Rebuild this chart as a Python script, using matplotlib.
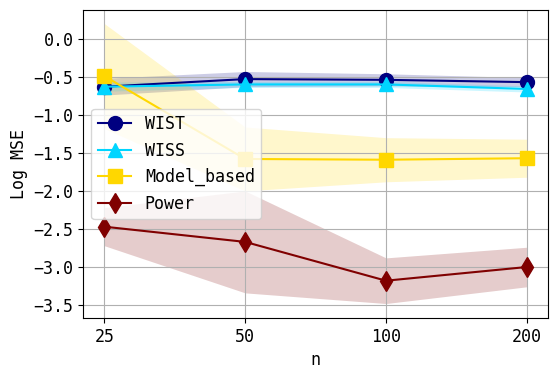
import matplotlib
matplotlib.use('Agg')
import matplotlib.pyplot as plt
import numpy as np

# data
n_labels = ['25', '50', '100', '200']

wist = [-0.63, -0.53, -0.54, -0.57]
wist_sd = [0.11, 0.10, 0.08, 0.06]

wiss = [-0.63, -0.60, -0.60, -0.66]
wiss_sd = [0.06, 0.04, 0.04, 0.04]

model_based = [-0.49, -1.58, -1.59, -1.57]
model_sd = [0.69, 0.42, 0.29, 0.25]

power = [-2.47, -2.67, -3.18, -3.00]
power_sd = [0.25, 0.67, 0.30, 0.26]

plt.rcParams['font.family'] = ['DejaVu Sans Mono']
plt.rcParams['font.size'] = 12

fig, ax = plt.subplots(figsize=(5.58, 3.79), dpi=100)
fig.subplots_adjust(left=0.149, right=0.982, top=0.974, bottom=0.161)

x = np.arange(len(n_labels))
series = [
    ('WIST', wist, wist_sd, 'navy', 'o'),
    ('WISS', wiss, wiss_sd, '#00d5ff', '^'),
    ('Model_based', model_based, model_sd, 'gold', 's'),
    ('Power', power, power_sd, 'maroon', 'd'),
]

for name, mean, sd, color, marker in series:
    mean = np.array(mean)
    sd = np.array(sd)
    ax.plot(x, mean, color=color, marker=marker, markersize=10, label=name)
    ax.fill_between(x, mean - sd, mean + sd, color=color, alpha=0.2, linewidth=0)

ax.set_xticks(x)
ax.set_xticklabels(n_labels)
ax.set_ylim(-3.67, 0.38)
ax.set_xlabel('n')
ax.set_ylabel('Log MSE')
ax.grid(True)
ax.legend(loc='center left')

fig.savefig('out.png', dpi=100)
